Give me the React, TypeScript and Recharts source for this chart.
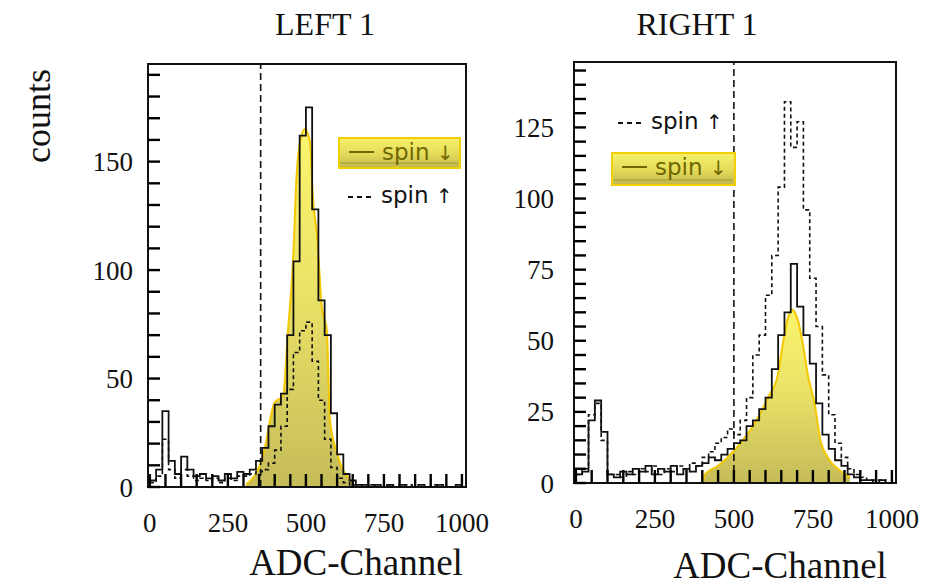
import { ComposedChart, Line, Area, XAxis, YAxis, ReferenceLine, ReferenceArea } from 'recharts'

// ADC channel bins (20 channels wide)
const channels = [
  0, 20, 40, 60, 80, 100, 120, 140, 160, 180,
  200, 220, 240, 260, 280, 300, 320, 340, 360, 380,
  400, 420, 440, 460, 480, 500, 520, 540, 560, 580,
  600, 620, 640, 660, 680, 700, 720, 740, 760, 780,
  800, 820, 840, 860, 880, 900, 920, 940, 960, 980, 1000,
]

const leftDown = [
  3, 8, 35, 12, 6, 14, 8, 5, 6, 4,
  5, 3, 6, 4, 7, 6, 8, 12, 18, 28,
  38, 43, 70, 104, 162, 175, 128, 86, 70, 34,
  15, 6, 3, 1, 1, 0, 1, 0, 1, 0,
  1, 0, 0, 1, 0, 0, 1, 0, 0, 1, 0,
]
const leftUp = [
  2, 5, 22, 8, 4, 8, 5, 3, 4, 3,
  4, 2, 4, 3, 5, 5, 6, 7, 8, 11,
  17, 28, 45, 62, 72, 76, 58, 40, 22, 9,
  4, 2, 1, 1, 0, 1, 0, 0, 1, 0,
  0, 1, 0, 0, 0, 1, 0, 0, 0, 0, 0,
]
const rightDown = [
  3, 4, 22, 29, 18, 3, 2, 4, 3, 5,
  4, 6, 3, 5, 4, 6, 3, 5, 4, 6,
  7, 9, 8, 10, 12, 14, 15, 20, 22, 26,
  30, 40, 52, 60, 77, 62, 52, 42, 28, 17,
  12, 8, 6, 3, 2, 1, 1, 0, 1, 0, 0,
]
const rightUp = [
  3, 5, 24, 28, 15, 3, 3, 2, 4, 3,
  5, 4, 6, 3, 5, 4, 6, 5, 7, 6,
  9, 11, 14, 16, 19, 17, 22, 30, 45, 52,
  66, 80, 104, 134, 118, 127, 96, 72, 55, 38,
  24, 14, 9, 5, 3, 2, 1, 1, 1, 0, 0,
]

// yellow highlighted envelope of the spin-down peak
const leftEnvCh = [308, 362, 400, 427, 442, 459, 470, 481, 497, 513, 523, 535, 551, 567, 577, 599, 651]
const leftEnvCounts = [1, 14, 39, 42, 71, 105, 143, 159, 165, 159, 132, 117, 83, 72, 31, 16, 2]
const rightEnvCh = [402, 408, 449, 513, 566, 608, 639, 655, 671, 683, 703, 718, 734, 757, 772, 797, 829, 867]
const rightEnvCounts = [0, 3, 6, 13, 21, 30, 38, 49, 58, 61, 57, 49, 38, 27, 16, 9, 5, 2]

const xTicks = [
  0, 50, 100, 150, 200, 250, 300, 350, 400, 450, 500,
  550, 600, 650, 700, 750, 800, 850, 900, 950, 1000,
]
const leftYTicks = [0, 10, 20, 30, 40, 50, 60, 70, 80, 90, 100, 110, 120, 130, 140, 150, 160, 170, 180, 190]
const rightYTicks = [0, 5, 10, 15, 20, 25, 30, 35, 40, 45, 50, 55, 60, 65, 70, 75, 80, 85, 90, 95, 100, 105, 110, 115, 120, 125, 130, 135, 140, 145]

const leftCut = 355
const rightCut = 500
const xDomain = [-6, 1013]

const serif = '"Liberation Serif", "DejaVu Serif", serif'
const sans = '"DejaVu Sans", "Liberation Sans", sans-serif'
const ink = '#111'

const makeRows = (down: number[], up: number[]) =>
  channels.map((ch, i) => ({ ch, down: down[i], up: up[i] }))
const makeEnv = (chs: number[], counts: number[]) =>
  chs.map((ch, i) => ({ ch, env: counts[i] }))

function XLabel(props: any) {
  const { x, y, payload } = props
  const v = payload.value
  if (v % 250 !== 0) return <g />
  return (
    <text x={x} y={y} dy="0.71em" textAnchor="middle" fontFamily={serif} fontSize={27} fill={ink}>
      {v}
    </text>
  )
}

function makeYLabel(majorStep: number) {
  return (props: any) => {
    const { x, y, payload } = props
    const v = payload.value
    if (v % majorStep !== 0) return <g />
    return (
      <text x={x} y={y} dy="0.355em" textAnchor="end" fontFamily={serif} fontSize={27} fill={ink}>
        {v}
      </text>
    )
  }
}

interface PanelProps {
  id: string
  rows: { ch: number; down: number; up: number }[]
  env: { ch: number; env: number }[]
  width: number
  margin: { top: number; right: number; bottom: number; left: number }
  yMax: number
  yTicks: number[]
  yGap: number
  yMajor: number
  cut: number
}

function Panel({ id, rows, env, width, margin, yMax, yTicks, yGap, yMajor, cut }: PanelProps) {
  const frame = { stroke: ink, strokeWidth: 2 }
  const tickStroke = { stroke: '#000', strokeWidth: 2.4 }
  return (
    <ComposedChart width={width} height={586} data={rows} margin={margin}>
      <defs>
        <linearGradient id={`env-${id}`} x1="0" y1="0" x2="0" y2="1">
          <stop offset="0%" stopColor="#faf35a" />
          <stop offset="45%" stopColor="#e8df52" />
          <stop offset="100%" stopColor="#bdb243" />
        </linearGradient>
      </defs>
      <XAxis
        dataKey="ch"
        type="number"
        domain={xDomain}
        ticks={xTicks}
        interval={0}
        tickSize={-13}
        tickMargin={39}
        tickLine={tickStroke}
        stroke="#000"
        tick={<XLabel />}
        axisLine={frame}
        height={60}
        allowDataOverflow
      />
      <YAxis
        type="number"
        domain={[0, yMax]}
        ticks={yTicks}
        interval={0}
        tickSize={-12}
        tickMargin={yGap + 12}
        tickLine={tickStroke}
        stroke="#000"
        tick={makeYLabel(yMajor)}
        axisLine={frame}
        width={60}
        allowDataOverflow
      />
      <ReferenceArea x1={xDomain[0]} x2={xDomain[1]} y1={0} y2={yMax} fill="none" stroke={ink} strokeWidth={2} />
      <ReferenceLine x={cut} stroke={ink} strokeWidth={1.6} strokeDasharray="7 4" />
      <Line dataKey="up" type="stepAfter" stroke={ink} strokeWidth={1.6} strokeDasharray="4 3" dot={false} isAnimationActive={false} />
      <Line dataKey="down" type="stepAfter" stroke={ink} strokeWidth={1.8} dot={false} isAnimationActive={false} />
      <Area
        data={env}
        dataKey="env"
        type="monotone"
        stroke="#f4c800"
        strokeWidth={2}
        fill={`url(#env-${id})`}
        fillOpacity={0.88}
        baseValue={0}
        isAnimationActive={false}
      />
    </ComposedChart>
  )
}

function LegendBox({ x, y, w, h }: { x: number; y: number; w: number; h: number }) {
  const olive = '#6f6800'
  return (
    <g>
      <rect x={x} y={y} width={w} height={h} fill="url(#legGrad)" stroke="#f2cf00" strokeWidth={2} />
      <line x1={x + 2} x2={x + w - 2} y1={y + h - 5} y2={y + h - 5} stroke="#8f8630" strokeWidth={1} opacity={0.7} />
      <line x1={x + 10} x2={x + 35} y1={y + 14} y2={y + 14} stroke={olive} strokeWidth={2} />
      <text x={x + 43} y={y + 22} fontFamily={sans} fontSize={23} fill={olive}>
        spin <tspan fontSize={20}>↓</tspan>
      </text>
    </g>
  )
}

function SpinUp({ x, y }: { x: number; y: number }) {
  return (
    <g>
      <line x1={x} x2={x + 25} y1={y - 6} y2={y - 6} stroke={ink} strokeWidth={2} strokeDasharray="5 4" />
      <text x={x + 33} y={y} fontFamily={sans} fontSize={23} fill={ink}>
        spin <tspan fontSize={20}>↑</tspan>
      </text>
    </g>
  )
}

export default function App() {
  return (
    <div style={{ position: 'absolute', left: 0, top: 0, width: 937, height: 586, background: '#fff', overflow: 'hidden' }}>
      <div style={{ position: 'absolute', left: 0, top: 0 }}>
        <Panel
          id="left"
          rows={makeRows(leftDown, leftUp)}
          env={makeEnv(leftEnvCh, leftEnvCounts)}
          width={500}
          margin={{ top: 64, right: 34, bottom: 39, left: 88 }}
          yMax={195}
          yTicks={leftYTicks}
          yGap={15}
          yMajor={50}
          cut={leftCut}
        />
      </div>
      <div style={{ position: 'absolute', left: 500, top: 0 }}>
        <Panel
          id="right"
          rows={makeRows(rightDown, rightUp)}
          env={makeEnv(rightEnvCh, rightEnvCounts)}
          width={437}
          margin={{ top: 62, right: 41, bottom: 43, left: 14 }}
          yMax={148}
          yTicks={rightYTicks}
          yGap={20}
          yMajor={25}
          cut={rightCut}
        />
      </div>
      <svg width={937} height={586} style={{ position: 'absolute', left: 0, top: 0, pointerEvents: 'none' }}>
        <defs>
          <linearGradient id="legGrad" x1="0" y1="0" x2="0" y2="1">
            <stop offset="0%" stopColor="#f6f16a" />
            <stop offset="55%" stopColor="#e3da5a" />
            <stop offset="100%" stopColor="#bfb64e" />
          </linearGradient>
        </defs>
        <text x={325} y={35} textAnchor="middle" fontFamily={serif} fontSize={32} fill={ink}>LEFT 1</text>
        <text x={697} y={35} textAnchor="middle" fontFamily={serif} fontSize={32} fill={ink}>RIGHT 1</text>
        <text x={356} y={575} textAnchor="middle" fontFamily={serif} fontSize={37} fill={ink}>ADC-Channel</text>
        <text x={780} y={578} textAnchor="middle" fontFamily={serif} fontSize={37} fill={ink}>ADC-Channel</text>
        <text x={50} y={116} textAnchor="middle" fontFamily={serif} fontSize={36} fill={ink} transform="rotate(-90 50 116)">
          counts
        </text>
        <LegendBox x={339} y={138} w={121} h={30} />
        <SpinUp x={348} y={203} />
        <SpinUp x={618} y={129} />
        <LegendBox x={612} y={153} w={123} h={32} />
      </svg>
    </div>
  )
}
